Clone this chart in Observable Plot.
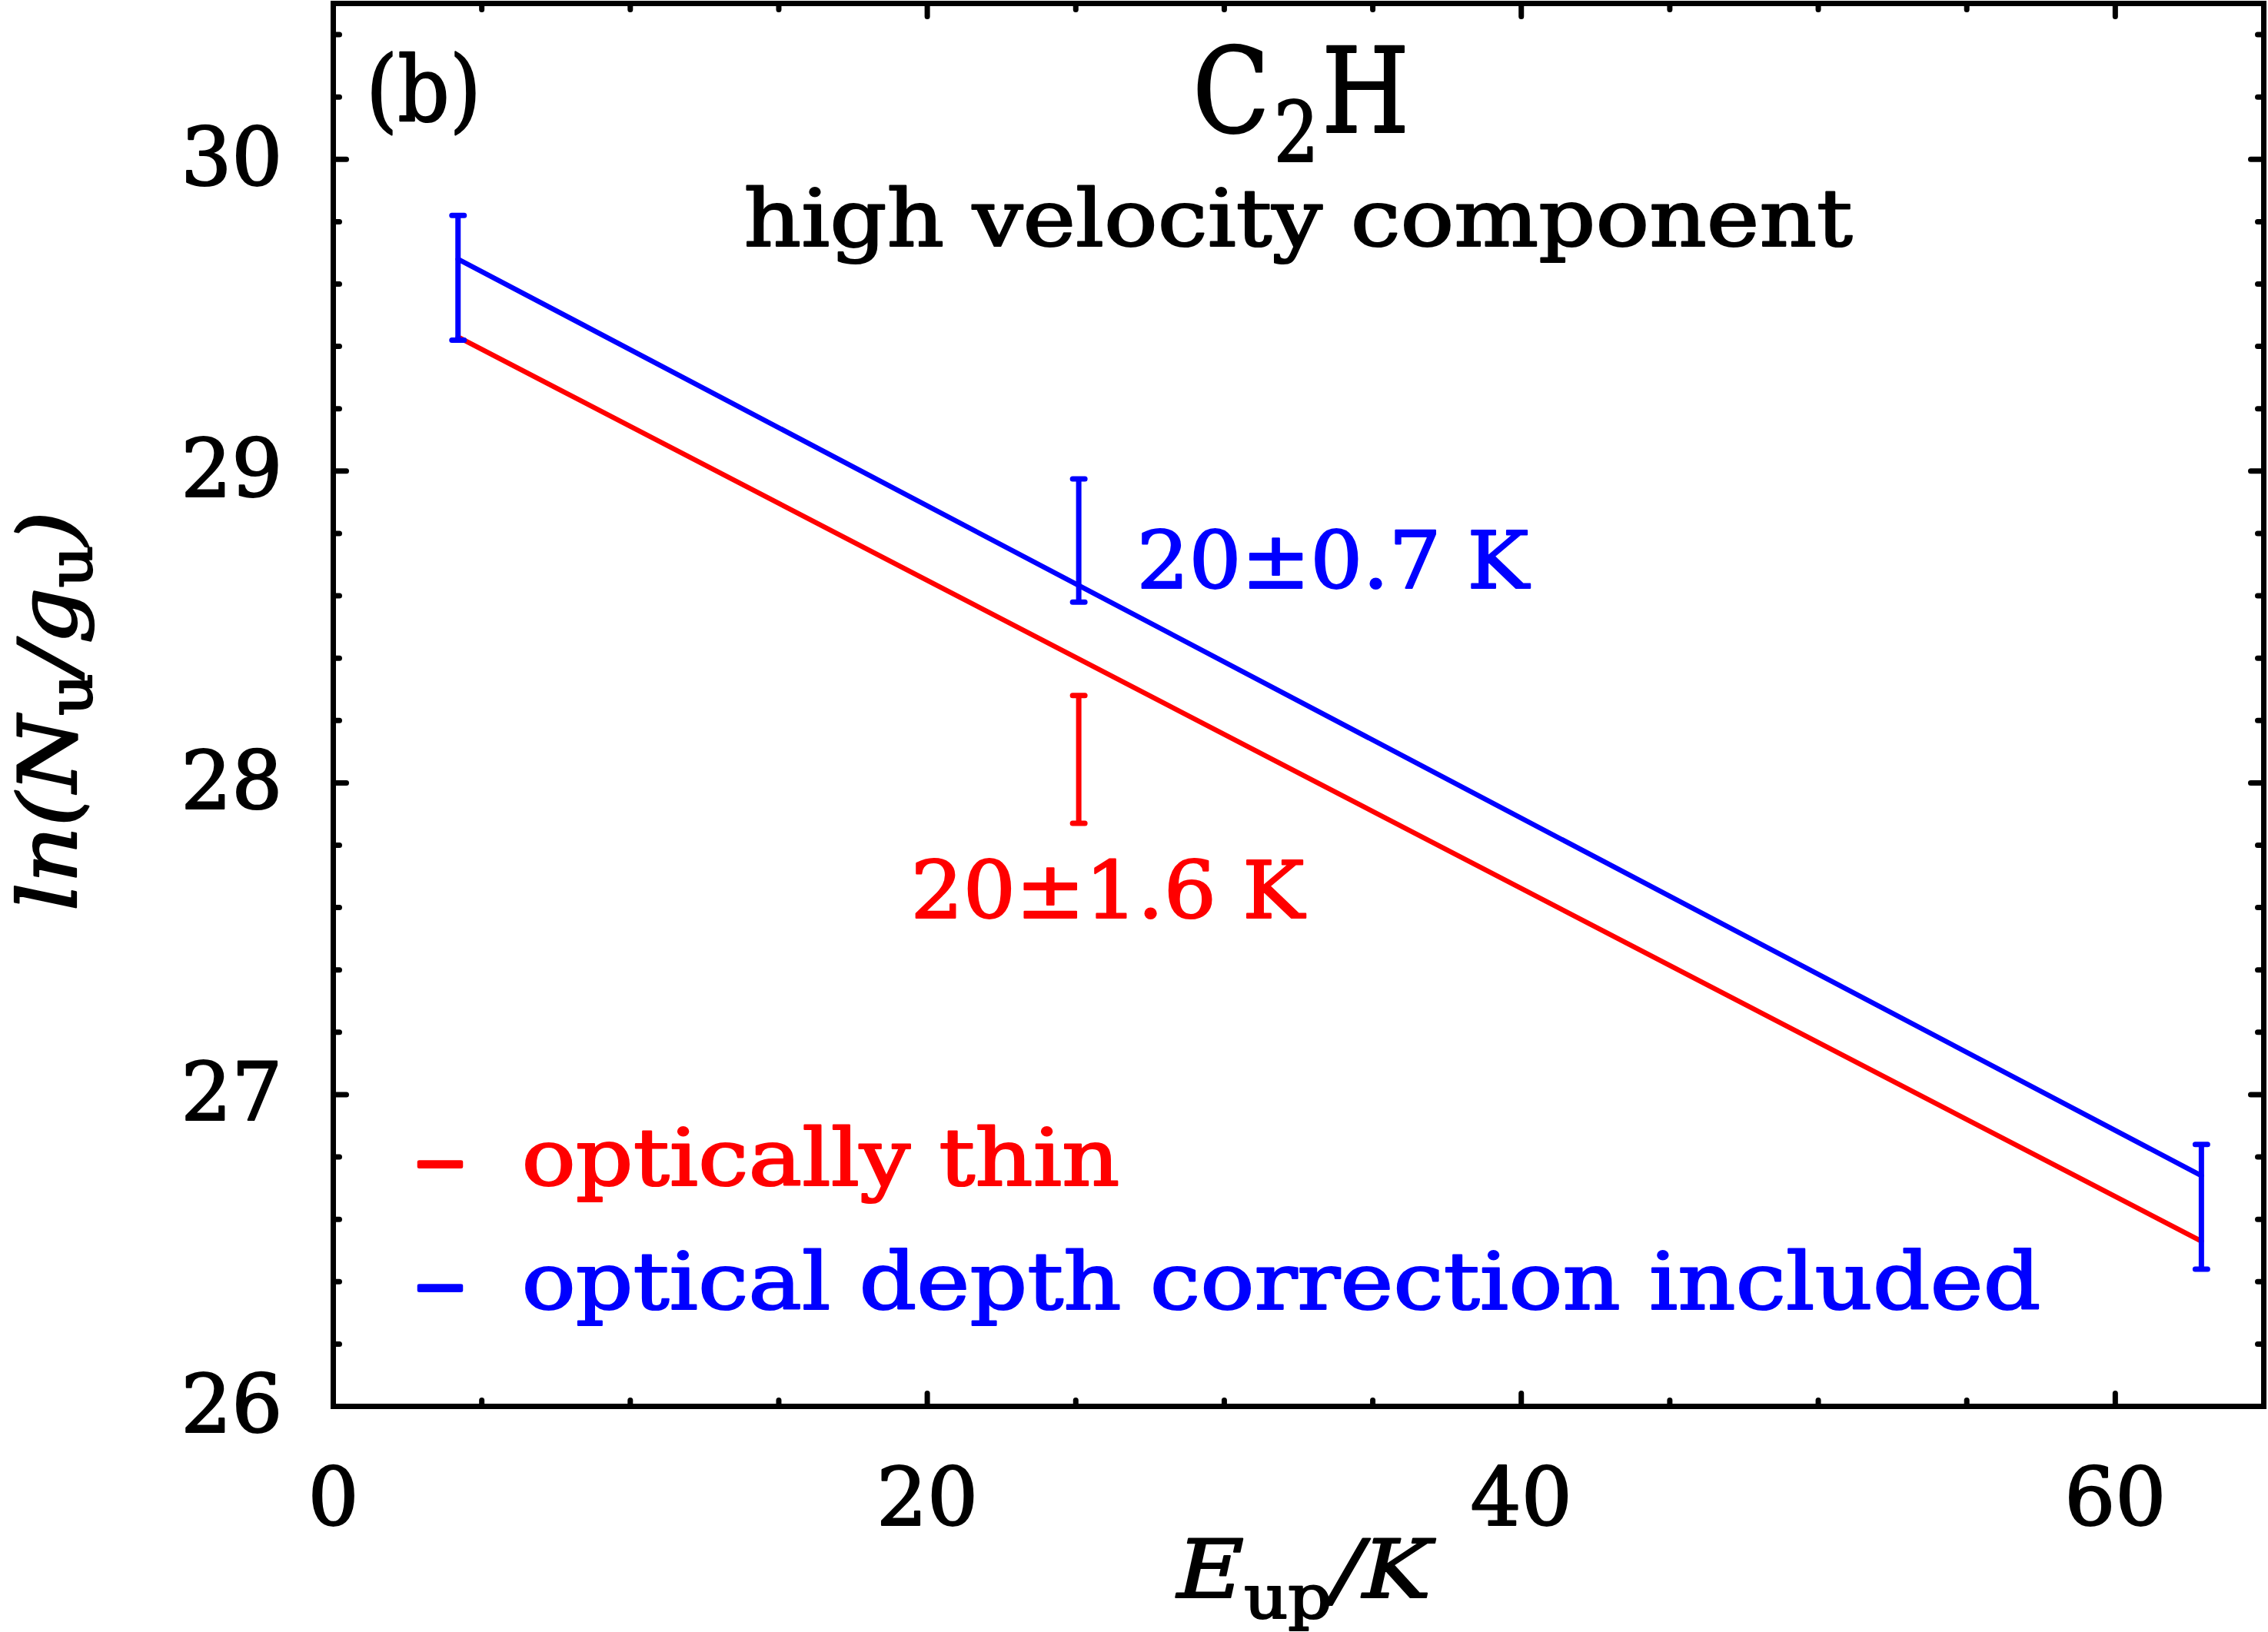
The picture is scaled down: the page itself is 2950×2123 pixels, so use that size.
<!DOCTYPE html>
<html>
<head>
<meta charset="utf-8">
<script src="https://cdn.jsdelivr.net/npm/d3@7"></script>
<script src="https://cdn.jsdelivr.net/npm/@observablehq/plot@0.6"></script>
<style>
  html, body { margin: 0; padding: 0; background: #fff; }
  svg { display: block; }
</style>
</head>
<body>
<div id="chart"></div>
<script>
// ---------------- data ----------------
const xMajorTicks = [0, 20, 40, 60];
const xTickMarks = [20, 40, 60];
const xMinorTicks = [5, 10, 15, 25, 30, 35, 45, 50, 55];
const yMajorTicks = [26, 27, 28, 29, 30];
const yTickMarks = [27, 28, 29, 30];
const yMinorTicks = [26.2, 26.4, 26.6, 26.8, 27.2, 27.4, 27.6, 27.8, 28.2, 28.4, 28.6, 28.8,
                     29.2, 29.4, 29.6, 29.8, 30.2, 30.4];

// upper-level energies (K) of the measured transitions
const levelE = [4.2, 25.1, 62.9];
// optical depth correction included (blue): error bar limits
const corrLow = [29.42, 28.58, 26.44];
const corrHigh = [29.82, 28.975, 26.84];
// optically thin (red): visible error bar
const thinE = [25.1];
const thinLow = [27.87];
const thinHigh = [28.28];
// fitted rotational-diagram lines (end points)
const fitE = [4.2, 62.9];
const thinFit = [29.43, 26.53];
const corrFit = [29.68, 26.74];

const blue = "#0000ff", red = "#ff0000";
const FONT = "'DejaVu Serif', 'Liberation Serif', serif";

const fitRows = fitE.map((e, i) => ({E: e, thin: thinFit[i], corr: corrFit[i]}));
const corrRows = levelE.map((e, i) => ({E: e, lo: corrLow[i], hi: corrHigh[i]}));
const thinRows = thinE.map((e, i) => ({E: e, lo: thinLow[i], hi: thinHigh[i]}));

const tickOpts = {shape: "arrow", r: 0, stroke: "black", strokeWidth: 7, strokeLinecap: "round", anchor: "start"};
const xTicks = (data, len) => [
  Plot.vector(data, {x: d => d, frameAnchor: "bottom", rotate: 0, length: len, ...tickOpts}),
  Plot.vector(data, {x: d => d, frameAnchor: "top", rotate: 180, length: len, ...tickOpts})
];
const yTicks = (data, len) => [
  Plot.vector(data, {y: d => d, frameAnchor: "left", rotate: 90, length: len, ...tickOpts}),
  Plot.vector(data, {y: d => d, frameAnchor: "right", rotate: -90, length: len, ...tickOpts})
];
const capOpts = {rotate: 90, length: 16, anchor: "middle", shape: "arrow", r: 0, strokeWidth: 7, strokeLinecap: "round"};
const txt = {fontSize: 103, lineAnchor: "bottom", text: d => d};

const plot = Plot.plot({
  width: 2950,
  height: 2123,
  marginLeft: 433,
  marginRight: 6,
  marginTop: 4,
  marginBottom: 294,
  style: {fontFamily: FONT, background: "white", color: "black"},
  x: {domain: [0, 65]},
  y: {domain: [26, 30.5]},
  marks: [
    Plot.axisX(xMajorTicks, {tickSize: 0, tickPadding: 81, fontSize: 104, label: null, tickFormat: d => String(d)}),
    Plot.axisY(yMajorTicks, {tickSize: 0, tickPadding: 66, fontSize: 104, label: null, tickFormat: d => String(d)}),
    ...xTicks(xMinorTicks, 8),
    ...xTicks(xTickMarks, 17),
    ...yTicks(yMinorTicks, 8),
    ...yTicks(yTickMarks, 17),
    // fitted lines
    Plot.line(fitRows, {x: "E", y: "thin", stroke: red, strokeWidth: 6.5}),
    Plot.line(fitRows, {x: "E", y: "corr", stroke: blue, strokeWidth: 6.5}),
    // error bars
    Plot.ruleX(thinRows, {x: "E", y1: "lo", y2: "hi", stroke: red, strokeWidth: 7}),
    Plot.vector(thinRows, {x: "E", y: "lo", stroke: red, ...capOpts}),
    Plot.vector(thinRows, {x: "E", y: "hi", stroke: red, ...capOpts}),
    Plot.ruleX(corrRows, {x: "E", y1: "lo", y2: "hi", stroke: blue, strokeWidth: 7}),
    Plot.vector(corrRows, {x: "E", y: "lo", stroke: blue, ...capOpts}),
    Plot.vector(corrRows, {x: "E", y: "hi", stroke: blue, ...capOpts}),
    // labels inside the panel
    Plot.text(["(b)"], {...txt, fontSize: 118, x: 1.1, y: 30.123, textAnchor: "start", fill: "black", className: "lbl-b"}),
    Plot.text(["high velocity component"], {...txt, x: 32.49, y: 29.721, textAnchor: "middle", fill: "black", className: "lbl-hv"}),
    Plot.text(["20±0.7 K"], {...txt, x: 27.05, y: 28.624, textAnchor: "start", fill: blue, className: "lbl-t1"}),
    Plot.text(["20±1.6 K"], {...txt, x: 19.44, y: 27.566, textAnchor: "start", fill: red, className: "lbl-t2"}),
    // legend
    Plot.text(["–"], {...txt, x: 3.6, y: 26.71, textAnchor: "middle", fill: red, className: "lbl-d"}),
    Plot.text(["–"], {...txt, x: 3.6, y: 26.311, textAnchor: "middle", fill: blue, className: "lbl-d"}),
    Plot.text(["optically thin"], {...txt, x: 6.34, y: 26.71, textAnchor: "start", fill: red, className: "lbl-l1"}),
    Plot.text(["optical depth correction included"], {...txt, x: 6.34, y: 26.311, textAnchor: "start", fill: blue, className: "lbl-l2"}),
    Plot.frame({stroke: "black", strokeWidth: 7})
  ]
});

document.getElementById("chart").appendChild(plot);

const svg = d3.select(plot);
const sx = plot.scale("x"), sy = plot.scale("y");

// match the widths of the original lettering
function fitLen(sel, len) {
  sel.attr("textLength", len).attr("lengthAdjust", "spacingAndGlyphs");
}
fitLen(svg.selectAll(".lbl-b text"), 150);
fitLen(svg.selectAll(".lbl-hv text"), 1442);
fitLen(svg.selectAll(".lbl-t1 text"), 510);
fitLen(svg.selectAll(".lbl-t2 text"), 512);
fitLen(svg.selectAll(".lbl-d text"), 66);
fitLen(svg.selectAll(".lbl-l1 text"), 778);
fitLen(svg.selectAll(".lbl-l2 text"), 1976);

// title C2H
const title = svg.append("text")
  .attr("x", sx.apply(32.6)).attr("y", sy.apply(30.086))
  .attr("text-anchor", "middle")
  .attr("font-family", FONT).attr("font-size", 153).attr("fill", "black");
title.append("tspan").text("C");
title.append("tspan").attr("font-size", 108).attr("dy", 38).attr("dx", 6).text("2");
title.append("tspan").attr("dy", -38).attr("dx", 4).text("H");
fitLen(title, 282);

// x axis label  E_up / K
const xl = svg.append("text")
  .attr("x", sx.apply(32.7)).attr("y", sy.apply(25.386))
  .attr("text-anchor", "middle")
  .attr("font-family", FONT).attr("font-size", 104).attr("fill", "black");
xl.append("tspan").attr("font-style", "italic").text("E");
xl.append("tspan").attr("font-size", 78).attr("dy", 27).text("up");
xl.append("tspan").attr("font-style", "italic").attr("dy", -27).text("/K");
fitLen(xl, 330);

// y axis label  ln(N_u / g_u)
const yl = svg.append("text")
  .attr("transform", `translate(${sx.apply(-8.65)},${sy.apply(28.229)}) rotate(-90)`)
  .attr("text-anchor", "middle")
  .attr("font-family", FONT).attr("font-size", 104).attr("fill", "black");
yl.append("tspan").attr("font-style", "italic").text("ln(N");
yl.append("tspan").attr("font-size", 78).attr("dy", 20).text("u");
yl.append("tspan").attr("font-style", "italic").attr("dy", -20).text("/g");
yl.append("tspan").attr("font-size", 78).attr("dy", 20).text("u");
yl.append("tspan").attr("font-style", "italic").attr("dy", -20).text(")");
fitLen(yl, 520);

// thicker strokes for the lettering, as in the original
svg.selectAll("text").each(function() {
  const f = getComputedStyle(this).fill;
  this.setAttribute("stroke", f);
  this.setAttribute("stroke-width", this.closest(".lbl-d") ? 4 : 2.2);
  this.setAttribute("stroke-linejoin", "round");
});
</script>
</body>
</html>
